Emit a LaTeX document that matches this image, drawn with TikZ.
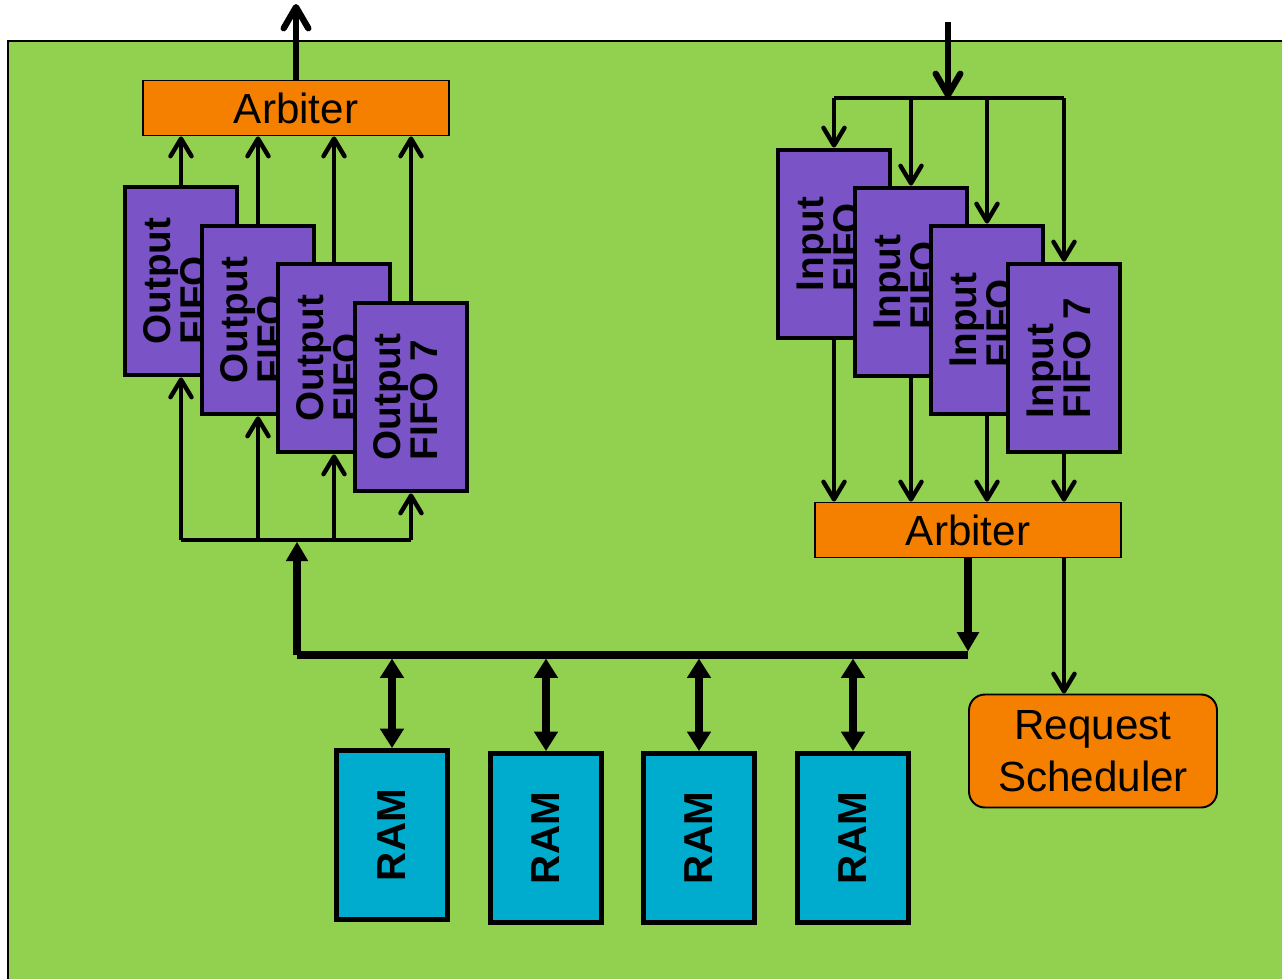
\documentclass[tikz,border=0pt]{standalone}
\usepackage{fontspec}
\setmainfont{Liberation Sans}
\usepackage{graphicx}
\usetikzlibrary{arrows.meta,positioning}
\definecolor{BoardGreen}{RGB}{146,208,80}
\definecolor{ArbOrange}{RGB}{245,128,0}
\definecolor{FifoPurple}{RGB}{122,83,199}
\definecolor{RamBlue}{RGB}{0,172,206}
\newcommand{\vlabel}[1]{\rotatebox{90}{\begin{tabular}{@{}l@{}}#1\end{tabular}}}
\tikzset{
  abox/.style={draw=black,fill=ArbOrange,line width=1.1pt,
               minimum width=6.12cm,minimum height=1.1cm,inner sep=0pt,
               font=\fontsize{24}{28}\selectfont},
  fbox/.style={draw=black,fill=FifoPurple,line width=2.8pt,
               minimum width=2.24cm,minimum height=3.76cm,inner sep=0pt,
               font=\fontsize{22}{20}\selectfont\bfseries},
  mbox/.style={draw=black,fill=RamBlue,line width=2.8pt,
               minimum width=2.22cm,minimum height=3.38cm,inner sep=0pt,
               font=\fontsize{23}{26}\selectfont\bfseries},
  sbox/.style={draw=black,fill=ArbOrange,line width=1.1pt,rounded corners=9pt,
               minimum width=4.96cm,minimum height=2.26cm,align=center,
               font=\fontsize{24}{29.5}\selectfont},
  link/.style={line width=2.5pt},
  arr/.style={-{Straight Barb[round,length=10pt,width=12pt]},line width=2.5pt},
  bigarr/.style={-{Straight Barb[round,length=12pt,width=14pt]},line width=3.6pt},
  bus/.style={line width=4.5pt},
  busarr/.style={-{Triangle[length=11pt,width=12pt]},line width=4pt},
  ramarr/.style={{Triangle[length=11pt,width=13pt]}-{Triangle[length=11pt,width=13pt]},
                 line width=4pt,shorten <=2pt},
}
\begin{document}
\begin{tikzpicture}[x=0.02cm,y=-0.02cm]
  \useasboundingbox (0,0) rectangle (1282,978);
  \fill[BoardGreen,draw=black,line width=1pt] (8,41) rectangle (1300,1000);
  % output side
  \node[abox] (oarb) at (296,108) {Arbiter};
  \node[fbox] (o1) at (181,281) {\vlabel{Output\\FIFO}};
  \node[fbox] (o2) at (258,320) {\vlabel{Output\\FIFO}};
  \node[fbox] (o3) at (334,358) {\vlabel{Output\\FIFO}};
  \node[fbox] (o4) at (411,397) {\vlabel{Output\\FIFO 7}};
  \coordinate (otop) at (296,4);
  \coordinate (obar) at (297,540);
  \draw[bigarr] (oarb) -- (otop);
  \draw[arr] (o1.north) -- (o1.north |- oarb.south);
  \draw[arr] (o2.north) -- (o2.north |- oarb.south);
  \draw[arr] (o3.north) -- (o3.north |- oarb.south);
  \draw[arr] (o4.north) -- (o4.north |- oarb.south);
  \draw[link] (o1.south |- obar) -- (o4.south |- obar);
  \draw[arr] (o1.south |- obar) -- (o1.south);
  \draw[arr] (o2.south |- obar) -- (o2.south);
  \draw[arr] (o3.south |- obar) -- (o3.south);
  \draw[arr] (o4.south |- obar) -- (o4.south);
  % input side
  \node[fbox] (i1) at (834,244) {\vlabel{Input\\FIFO}};
  \node[fbox] (i2) at (911,282) {\vlabel{Input\\FIFO}};
  \node[fbox] (i3) at (987,320) {\vlabel{Input\\FIFO}};
  \node[fbox] (i4) at (1064,358) {\vlabel{Input\\FIFO 7}};
  \node[abox] (iarb) at (968,530) {Arbiter};
  \node[sbox] (sched) at (1093,751) {Request\\Scheduler};
  \coordinate (itop) at (948,22);
  \coordinate (ibar) at (948,98);
  \draw[bigarr] (itop) -- (ibar);
  \draw[link] (i1.north |- ibar) -- (i4.north |- ibar);
  \draw[arr] (i1.north |- ibar) -- (i1.north);
  \draw[arr] (i2.north |- ibar) -- (i2.north);
  \draw[arr] (i3.north |- ibar) -- (i3.north);
  \draw[arr] (i4.north |- ibar) -- (i4.north);
  \draw[arr] (i1.south) -- (i1.south |- iarb.north);
  \draw[arr] (i2.south) -- (i2.south |- iarb.north);
  \draw[arr] (i3.south) -- (i3.south |- iarb.north);
  \draw[arr] (i4.south) -- (i4.south |- iarb.north);
  \draw[arr] (i4.south |- iarb.south) -- (i4.south |- sched.north);
  % memory bus
  \coordinate (busl) at (297,655);
  \coordinate (busr) at (968,655);
  \draw[bus] (busl) -- (busr);
  \draw[busarr,shorten >=1pt] (busl) -- (obar);
  \draw[busarr,shorten >=2pt] (iarb.south) -- (busr);
  \node[mbox] (r1) at (392,835) {\rotatebox{90}{RAM}};
  \node[mbox] (r2) at (546,838) {\rotatebox{90}{RAM}};
  \node[mbox] (r3) at (699,838) {\rotatebox{90}{RAM}};
  \node[mbox] (r4) at (853,838) {\rotatebox{90}{RAM}};
  \draw[ramarr] (r1.north |- busl) -- (r1.north);
  \draw[ramarr] (r2.north |- busl) -- (r2.north);
  \draw[ramarr] (r3.north |- busl) -- (r3.north);
  \draw[ramarr] (r4.north |- busl) -- (r4.north);
\end{tikzpicture}
\end{document}
